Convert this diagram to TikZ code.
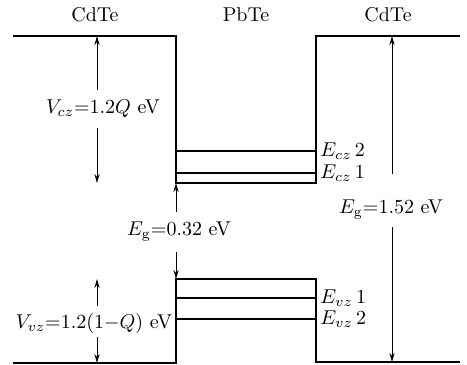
\documentclass[tikz,border=0pt]{standalone}
\usetikzlibrary{arrows.meta}
\begin{document}
\begin{tikzpicture}[x=0.5pt,y=-0.5pt,
  band/.style={line width=1pt,line join=miter},
  level/.style={line width=0.7pt},
  arr/.style={line width=0.5pt,-{Stealth[length=4.5pt,width=2.6pt]}},
  lbl/.style={inner sep=0pt,font=\fontsize{10}{12}\selectfont}]
\useasboundingbox (0,0) rectangle (467,365);
% band edge coordinates
\coordinate (cl) at (13,36);
\coordinate (cw1) at (176,36);
\coordinate (cw2) at (176,183);
\coordinate (cw3) at (316,183);
\coordinate (cw4) at (316,36);
\coordinate (cr) at (460,36);
\coordinate (vl) at (13,363);
\coordinate (vw1) at (176,363);
\coordinate (vw2) at (176,279);
\coordinate (vw3) at (316,279);
\coordinate (vw4) at (316,362);
\coordinate (vr) at (460,362);
\draw[band] (cl) -- (cw1) -- (cw2) -- (cw3) -- (cw4) -- (cr);
\draw[band] (vl) -- (vw1) -- (vw2) -- (vw3) -- (vw4) -- (vr);
% quantum levels
\coordinate (ec2a) at (176,151); \coordinate (ec2b) at (316,151);
\coordinate (ec1a) at (176,173); \coordinate (ec1b) at (316,173);
\coordinate (ev1a) at (176,298); \coordinate (ev1b) at (316,298);
\coordinate (ev2a) at (176,319); \coordinate (ev2b) at (316,319);
\draw[level] (ec2a) -- (ec2b);
\draw[level] (ec1a) -- (ec1b);
\draw[level] (ev1a) -- (ev1b);
\draw[level] (ev2a) -- (ev2b);
% titles
\node[lbl] (t1) at (95,15) {CdTe};
\node[lbl] (t2) at (246,15) {PbTe};
\node[lbl] (t3) at (388,15) {CdTe};
% level labels
\node[lbl,anchor=west] (lc2) at (320,151) {$E_{cz}\,2$};
\node[lbl,anchor=west] (lc1) at (320,173) {$E_{cz}\,1$};
\node[lbl,anchor=west] (lv1) at (320,298) {$E_{vz}\,1$};
\node[lbl,anchor=west] (lv2) at (320,319) {$E_{vz}\,2$};
% Vcz
\node[lbl] (vcz) at (103,109) {$V_{cz}$=1.2$Q$ eV};
\coordinate (vcza) at (97,90); \coordinate (vczb) at (97,128);
\coordinate (vczt) at (97,36); \coordinate (vczd) at (97,183);
\draw[arr] (vcza) -- (vczt);
\draw[arr] (vczb) -- (vczd);
% Eg 0.32
\node[lbl] (eg1) at (179,232) {$E_{\mathrm g}$=0.32 eV};
\coordinate (eg1a) at (176,212); \coordinate (eg1b) at (176,252);
\coordinate (eg1t) at (176,183); \coordinate (eg1d) at (176,279);
\draw[arr] (eg1a) -- (eg1t);
\draw[arr] (eg1b) -- (eg1d);
% Vvz
\node[lbl] (vvz) at (94,323) {$V_{vz}$=1.2(1$-$$Q$) eV};
\coordinate (vvza) at (97,306); \coordinate (vvzb) at (97,337);
\coordinate (vvzt) at (97,279); \coordinate (vvzd) at (97,363);
\draw[arr] (vvza) -- (vvzt);
\draw[arr] (vvzb) -- (vvzd);
% Eg 1.52
\node[lbl] (eg2) at (391,210) {$E_{\mathrm g}$=1.52 eV};
\coordinate (eg2a) at (392,174); \coordinate (eg2b) at (392,227);
\coordinate (eg2t) at (392,36); \coordinate (eg2d) at (392,362);
\draw[arr] (eg2a) -- (eg2t);
\draw[arr] (eg2b) -- (eg2d);
\end{tikzpicture}
\end{document}
